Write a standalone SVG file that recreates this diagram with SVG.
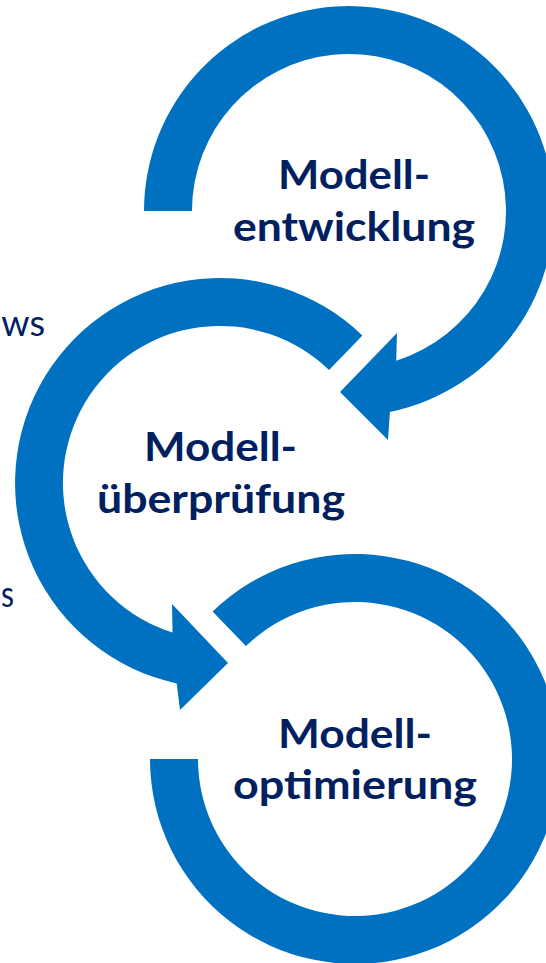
<svg xmlns="http://www.w3.org/2000/svg" width="546" height="963" viewBox="0 0 546 963">
<style>
.ring{fill:#0070C0;stroke:none}
.lbl{font-family:Lato,"Open Sans","Liberation Sans",sans-serif;font-weight:bold;font-size:40.5px;fill:#002060;text-anchor:middle}
.side{font-family:Lato,"Open Sans","Liberation Sans",sans-serif;font-size:36px;fill:#002060;text-anchor:end}
</style>
<rect width="546" height="963" fill="#FFFFFF"/>
<g id="connectors">
<path id="arrow-entwicklung" class="ring" d="M144,211 A205,205 0 1 1 389.9,411.9 L388,440 L340,392 L397,333 L396.2,360.7 A157,157 0 1 0 192,211 Z"/>
<path id="arrow-ueberpruefung" class="ring" d="M362.4,335.5 A205,205 0 1 0 176.7,683.4 L180,710 L228,663 L172,604 L172.5,632.6 A157,157 0 1 1 329.1,370.1 Z"/>
<path id="ring-optimierung" class="ring" d="M212.6,611.5 A205,205 0 1 1 150,759 L198,759 A157,157 0 1 0 245.9,646.1 Z"/>
</g>
<g id="node-entwicklung">
<text class="lbl" x="354" y="189" textLength="152" lengthAdjust="spacingAndGlyphs">Modell-</text>
<text class="lbl" x="354" y="241" textLength="242" lengthAdjust="spacingAndGlyphs">entwicklung</text>
</g>
<g id="node-ueberpruefung">
<text class="lbl" x="220.5" y="461" textLength="153" lengthAdjust="spacingAndGlyphs">Modell-</text>
<text class="lbl" x="221" y="513" textLength="248" lengthAdjust="spacingAndGlyphs">überprüfung</text>
</g>
<g id="node-optimierung">
<text class="lbl" x="355" y="748" textLength="154" lengthAdjust="spacingAndGlyphs">Modell-</text>
<text class="lbl" x="355" y="799" textLength="244" lengthAdjust="spacingAndGlyphs">optimierung</text>
</g>
<g id="side-texts">
<text class="side" x="45" y="336">ws</text>
<text class="side" x="14" y="607" textLength="13" lengthAdjust="spacingAndGlyphs">s</text>
</g>
</svg>
